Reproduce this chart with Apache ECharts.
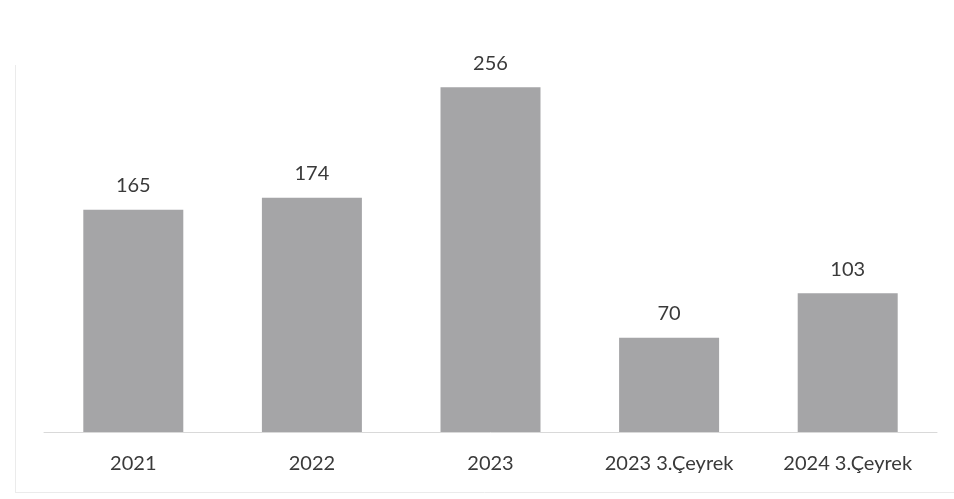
<!DOCTYPE html>
<html>
<head>
<meta charset="utf-8">
<script src="https://cdn.jsdelivr.net/npm/echarts@6/dist/echarts.min.js"></script>
<style>
html,body{margin:0;padding:0;background:#fff;}
#c{width:954px;height:499px;}
</style>
</head>
<body>
<div id="c"></div>
<script>
const categories = ['2021', '2022', '2023', '2023 3.Çeyrek', '2024 3.Çeyrek'];
const values = [165, 174, 256, 70, 103];

const chart = echarts.init(document.getElementById('c'));
chart.setOption({
  backgroundColor: '#ffffff',
  animation: false,
  grid: { left: 44, right: 17, top: 28, bottom: 67 },
  xAxis: {
    type: 'category',
    data: categories,
    axisLine: { lineStyle: { color: '#d9d9d9', width: 1 } },
    axisTick: { show: false },
    axisLabel: { color: '#3a3a3a', fontFamily: 'Lato', fontSize: 20, margin: 22 }
  },
  yAxis: {
    type: 'value', min: 0, max: 300,
    show: false,
    splitLine: { show: false }
  },
  series: [{
    type: 'bar',
    data: values,
    barWidth: 100,
    itemStyle: { color: '#a5a5a7' },
    label: { show: true, position: 'top', distance: 14, color: '#3a3a3a', fontFamily: 'Lato', fontSize: 20 }
  }],
  graphic: [
    { type: 'line', shape: { x1: 15.5, y1: 65, x2: 15.5, y2: 492 }, style: { stroke: '#ebebeb', lineWidth: 1 } },
    { type: 'line', shape: { x1: 15, y1: 492.5, x2: 954, y2: 492.5 }, style: { stroke: '#ebebeb', lineWidth: 1 } }
  ]
});
</script>
</body>
</html>
